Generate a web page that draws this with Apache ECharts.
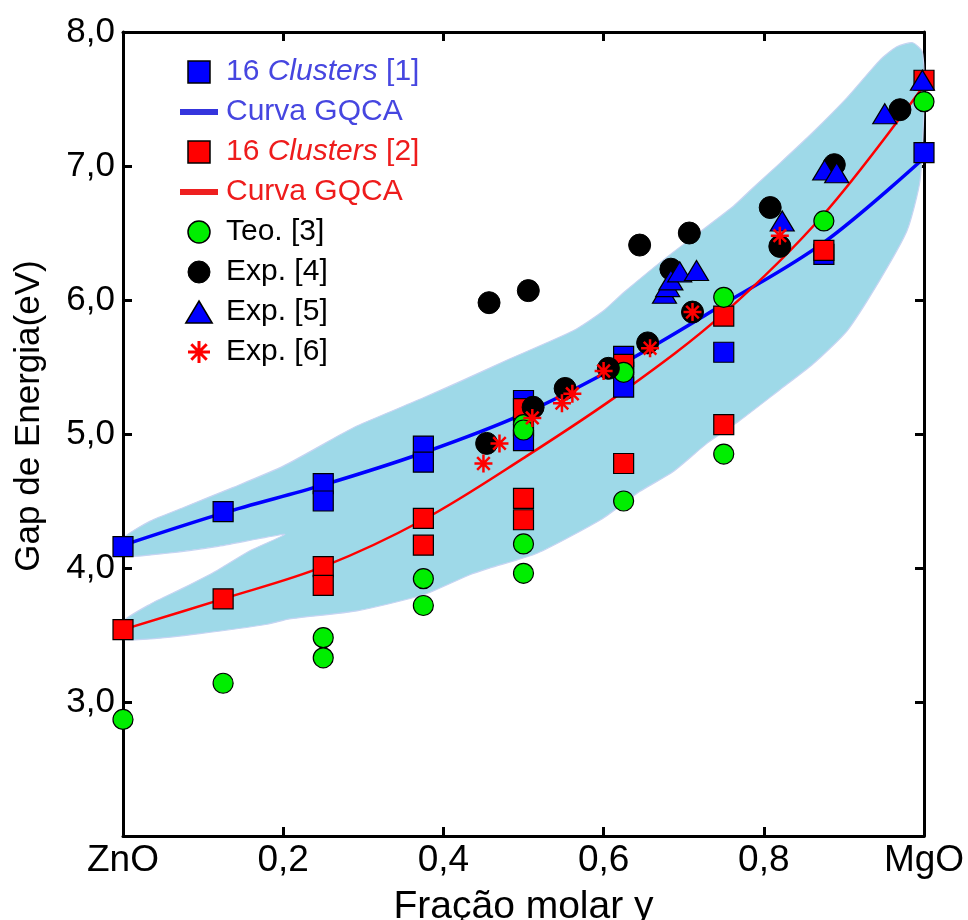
<!DOCTYPE html>
<html>
<head>
<meta charset="utf-8">
<script src="https://cdn.jsdelivr.net/npm/echarts/dist/echarts.min.js"></script>
<style>
html,body{margin:0;padding:0;background:#fff;}
#chart{width:968px;height:920px;}
</style>
</head>
<body>
<div id="chart"></div>
<script>
// ---------- data ----------
var xTickLabels = ['ZnO', '0,2', '0,4', '0,6', '0,8', 'MgO'];
var yTickLabels = ['', '3,0', '4,0', '5,0', '6,0', '7,0', '8,0'];

// GQCA curves
var curveX     = [0, 0.125, 0.25, 0.375, 0.5, 0.625, 0.75, 0.875, 1.0];
var blueCurveY = [4.17, 4.41, 4.62, 4.86, 5.15, 5.53, 5.97, 6.43, 7.06];
var redCurveY  = [3.54, 3.77, 4.01, 4.36, 4.82, 5.32, 5.90, 6.64, 7.60];

// 16 Clusters [1]
var blueSqX = [0, 0.125, 0.25, 0.25, 0.375, 0.375, 0.5, 0.5, 0.5, 0.625, 0.625, 0.625, 0.75, 0.875, 1.0];
var blueSqY = [4.16, 4.42, 4.63, 4.50, 4.91, 4.79, 5.25, 5.06, 4.95, 5.58, 5.46, 5.35, 5.61, 6.34, 7.10];
// 16 Clusters [2]
var redSqX = [0, 0.125, 0.25, 0.25, 0.375, 0.375, 0.5, 0.5, 0.5, 0.625, 0.625, 0.75, 0.75, 0.875, 1.0];
var redSqY = [3.54, 3.77, 4.01, 3.87, 4.37, 4.17, 5.19, 4.52, 4.36, 5.52, 4.78, 5.88, 5.07, 6.37, 7.64];
// Teo. [3]
var greenX = [0, 0.125, 0.25, 0.25, 0.375, 0.375, 0.5, 0.5, 0.5, 0.5, 0.625, 0.625, 0.75, 0.75, 0.875, 1.0];
var greenY = [2.87, 3.14, 3.48, 3.33, 3.92, 3.72, 5.07, 5.03, 4.18, 3.96, 5.46, 4.50, 6.02, 4.85, 6.59, 7.48];
// Exp. [4]
var blackX = [0.454, 0.457, 0.506, 0.512, 0.552, 0.606, 0.645, 0.655, 0.684, 0.707, 0.711, 0.808, 0.820, 0.888, 0.970];
var blackY = [4.93, 5.98, 6.07, 5.20, 5.34, 5.49, 6.41, 5.68, 6.23, 6.50, 5.91, 6.69, 6.40, 7.01, 7.42];
// Exp. [5]
var triX = [0.676, 0.680, 0.684, 0.695, 0.716, 0.823, 0.876, 0.891, 0.951, 0.998];
var triY = [6.05, 6.10, 6.15, 6.21, 6.22, 6.59, 6.97, 6.95, 7.39, 7.64];
// Exp. [6]
var astX = [0.450, 0.470, 0.511, 0.548, 0.561, 0.600, 0.658, 0.711, 0.820];
var astY = [4.78, 4.93, 5.12, 5.23, 5.30, 5.47, 5.64, 5.91, 6.48];

// shaded band outline (data coordinates)
var bandX = [0, 0.034, 0.075, 0.137, 0.20, 0.27, 0.292, 0.375, 0.424, 0.479, 0.562, 0.60, 0.624, 0.679, 0.762, 0.787, 0.820, 0.861, 0.904, 0.945, 0.966, 0.986, 0.998, 1.0,
             0.995, 0.979, 0.945, 0.904, 0.861, 0.820, 0.770, 0.729, 0.687, 0.645, 0.599, 0.517, 0.458, 0.433, 0.375, 0.292, 0.208, 0.18, 0.096, 0.034, 0,
             0, 0.034, 0.075, 0.117, 0.159, 0.202, 0.171, 0.117, 0.055, 0];
var bandY = [4.22, 4.35, 4.45, 4.60, 4.76, 4.99, 5.06, 5.27, 5.40, 5.55, 5.77, 5.92, 6.05, 6.32, 6.70, 6.84, 7.02, 7.25, 7.51, 7.79, 7.89, 7.92, 7.85, 7.50,
             6.89, 6.52, 6.15, 5.77, 5.52, 5.33, 5.10, 4.93, 4.72, 4.57, 4.37, 4.11, 4.00, 3.95, 3.80, 3.68, 3.62, 3.58, 3.51, 3.47, 3.47,
             3.60, 3.73, 3.85, 3.98, 4.13, 4.25, 4.22, 4.16, 4.11, 4.09];

function pairs(xs, ys) { return xs.map(function (x, i) { return [x, ys[i]]; }); }

var FONT = 'Arial, "Liberation Sans", sans-serif';
var ASTERISK = 'path://M10 0L10 20M0 10L20 10M3 3L17 17M17 3L3 17';
var LINEICON = 'path://M0 0H38V6H0Z';
var SQUAREICON = 'path://M0 0H20V20H0Z';
var CIRCLEICON = 'path://M0 10A10 10 0 1 1 20 10A10 10 0 1 1 0 10Z';
var TRIICON = 'path://M12 0L24 20H0Z';

var displayNames = {
  'c1': '{sp|}{b|16 }{bi|Clusters}{b| [1]}',
  'g1': '{sp|}{b|Curva GQCA}',
  'c2': '{sp|}{r|16 }{ri|Clusters}{r| [2]}',
  'g2': '{sp|}{r|Curva GQCA}',
  'Teo. [3]': '{sp|}{k|Teo. [3]}',
  'Exp. [4]': '{sp|}{k|Exp. [4]}',
  'Exp. [5]': '{sp|}{k|Exp. [5]}',
  'Exp. [6]': '{sp|}{k|Exp. [6]}'
};

var chart = echarts.init(document.getElementById('chart'), null, {renderer: 'canvas'});

var axisLineStyle = {color: '#000', width: 3};
var tickStyle = {show: true, inside: true, length: 9, lineStyle: {color: '#000', width: 3}};

var option = {
  animation: false,
  backgroundColor: '#fff',
  grid: {left: 123, right: 44, top: 32, bottom: 84, containLabel: false, outerBoundsMode: 'none'},
  legend: {
    orient: 'vertical',
    left: 175,
    top: 52,
    itemWidth: 38,
    itemHeight: 22,
    itemGap: 10,
    symbolKeepAspect: true,
    selectedMode: false,
    formatter: function (name) { return displayNames[name]; },
    textStyle: {
      fontFamily: FONT, fontSize: 30,
      rich: {
        sp: {width: 3},
        b: {color: '#4646e0', fontSize: 30, fontFamily: FONT},
        bi: {color: '#4646e0', fontSize: 30, fontFamily: FONT, fontStyle: 'italic'},
        r: {color: '#ee1c1c', fontSize: 30, fontFamily: FONT},
        ri: {color: '#ee1c1c', fontSize: 30, fontFamily: FONT, fontStyle: 'italic'},
        k: {color: '#000', fontSize: 30, fontFamily: FONT}
      }
    },
    data: [
      {name: 'c1', icon: SQUAREICON, itemStyle: {color: '#0000ff', borderColor: '#000', borderWidth: 1.5}},
      {name: 'g1', icon: LINEICON, itemStyle: {color: '#3535dd', borderWidth: 0}},
      {name: 'c2', icon: SQUAREICON, itemStyle: {color: '#ff0000', borderColor: '#000', borderWidth: 1.5}},
      {name: 'g2', icon: LINEICON, itemStyle: {color: '#ee2020', borderWidth: 0}},
      {name: 'Teo. [3]', icon: CIRCLEICON, itemStyle: {color: '#00ee00', borderColor: '#000', borderWidth: 1.5}},
      {name: 'Exp. [4]', icon: CIRCLEICON, itemStyle: {color: '#000', borderColor: '#000', borderWidth: 1}},
      {name: 'Exp. [5]', icon: TRIICON, itemStyle: {color: '#0000ff', borderColor: '#000', borderWidth: 1.5}},
      {name: 'Exp. [6]', icon: ASTERISK, itemStyle: {color: '#ff0000', borderColor: '#ff0000', borderWidth: 3}}
    ]
  },
  xAxis: [
    {
      type: 'value', position: 'bottom', min: 0, max: 1, interval: 0.2,
      axisLine: {show: true, onZero: false, lineStyle: axisLineStyle},
      axisTick: tickStyle,
      splitLine: {show: false},
      axisLabel: {
        show: true, margin: 6, color: '#000', fontFamily: FONT, fontSize: 37,
        formatter: function (v) { return xTickLabels[Math.round(v / 0.2)]; }
      },
      name: 'Fração molar y', nameLocation: 'middle', nameGap: 52,
      nameTextStyle: {color: '#000', fontFamily: FONT, fontSize: 39}
    },
    {
      type: 'value', position: 'top', min: 0, max: 1, interval: 0.2,
      axisLine: {show: true, onZero: false, lineStyle: axisLineStyle},
      axisTick: tickStyle, axisLabel: {show: false}, splitLine: {show: false}
    }
  ],
  yAxis: [
    {
      type: 'value', position: 'left', min: 2, max: 8, interval: 1,
      axisLine: {show: true, onZero: false, lineStyle: axisLineStyle},
      axisTick: tickStyle,
      splitLine: {show: false},
      axisLabel: {
        show: true, margin: 8, color: '#000', fontFamily: FONT, fontSize: 35,
        formatter: function (v) { return yTickLabels[Math.round(v - 2)]; }
      },
      name: 'Gap de Energia(eV)', nameLocation: 'middle', nameGap: 76, nameRotate: 90,
      nameTextStyle: {color: '#000', fontFamily: FONT, fontSize: 35, padding: [0, 0, 0, 36]}
    },
    {
      type: 'value', position: 'right', min: 2, max: 8, interval: 1,
      axisLine: {show: true, onZero: false, lineStyle: axisLineStyle},
      axisTick: tickStyle, axisLabel: {show: false}, splitLine: {show: false}
    }
  ],
  series: [
    {
      name: 'band', type: 'custom', silent: true, z: 1,
      xAxisIndex: 0, yAxisIndex: 0,
      data: pairs(bandX, bandY),
      renderItem: function (params, api) {
        if (params.dataIndex !== 0) return null;
        var pts = bandX.map(function (x, i) { return api.coord([x, bandY[i]]); });
        return {type: 'polygon', shape: {points: pts, smooth: 0.2},
          style: {fill: '#9ed9e8', stroke: '#c6d4f2', lineWidth: 1.2}};
      }
    },
    {
      name: 'g1', type: 'line', z: 3, data: pairs(curveX, blueCurveY), smooth: 0.35,
      showSymbol: false, symbol: 'none', color: '#0000ff',
      lineStyle: {color: '#0000ff', width: 3.5}, itemStyle: {color: '#0000ff'}, silent: true
    },
    {
      name: 'g2', type: 'line', z: 3, data: pairs(curveX, redCurveY), smooth: 0.35,
      showSymbol: false, symbol: 'none', color: '#ff0000',
      lineStyle: {color: '#ff0000', width: 2.5}, itemStyle: {color: '#ff0000'}, silent: true
    },
    {
      name: 'c1', type: 'scatter', z: 4, clip: false, silent: true,
      symbol: 'rect', symbolSize: 20, data: pairs(blueSqX, blueSqY),
      itemStyle: {color: '#0000ff', borderColor: '#000', borderWidth: 1.2, opacity: 1}
    },
    {
      name: 'c2', type: 'scatter', z: 5, clip: false, silent: true,
      symbol: 'rect', symbolSize: 20, data: pairs(redSqX, redSqY),
      itemStyle: {color: '#ff0000', borderColor: '#000', borderWidth: 1.2, opacity: 1}
    },
    {
      name: 'Teo. [3]', type: 'scatter', z: 6, clip: false, silent: true,
      symbol: 'circle', symbolSize: 20, data: pairs(greenX, greenY),
      itemStyle: {color: '#00ee00', borderColor: '#000', borderWidth: 1.2, opacity: 1}
    },
    {
      name: 'Exp. [4]', type: 'scatter', z: 7, clip: false, silent: true,
      symbol: 'circle', symbolSize: 22, data: pairs(blackX, blackY),
      itemStyle: {color: '#000', borderColor: '#000', borderWidth: 1, opacity: 1}
    },
    {
      name: 'Exp. [5]', type: 'scatter', z: 8, clip: false, silent: true,
      symbol: 'triangle', symbolSize: [24, 20], data: pairs(triX, triY),
      itemStyle: {color: '#0000ff', borderColor: '#000', borderWidth: 1.2, opacity: 1}
    },
    {
      name: 'Exp. [6]', type: 'scatter', z: 9, clip: false, silent: true,
      symbol: ASTERISK, symbolSize: 18, data: pairs(astX, astY),
      itemStyle: {color: '#ff0000', borderColor: '#ff0000', borderWidth: 2.5, opacity: 1}
    }
  ]
};
chart.setOption(option);
</script>
</body>
</html>
